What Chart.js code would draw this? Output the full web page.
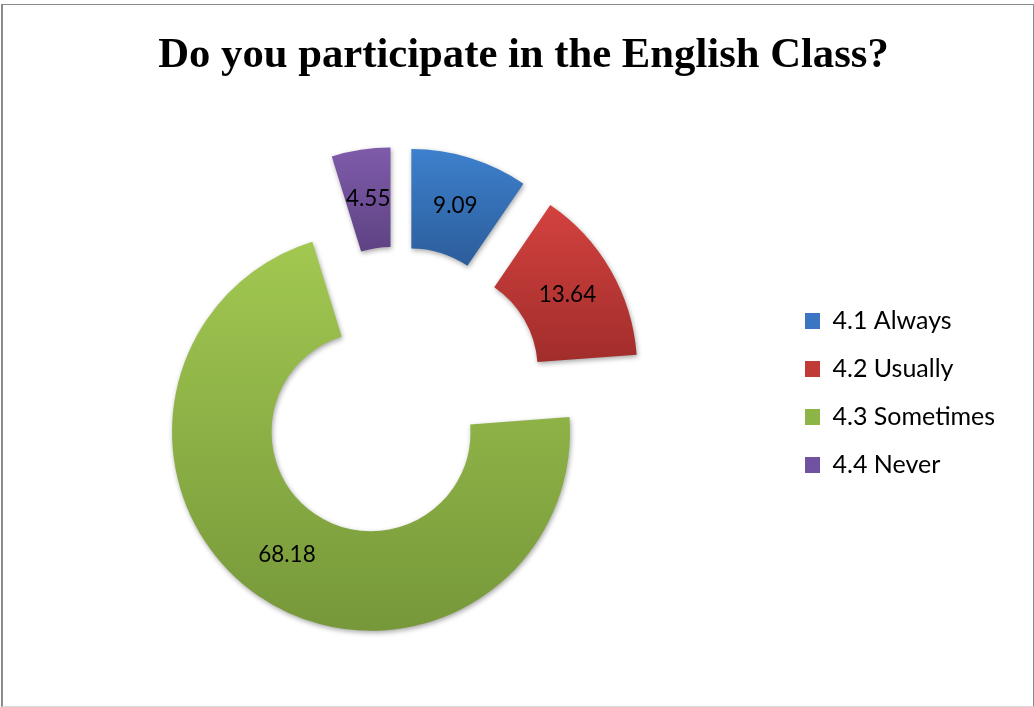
<!DOCTYPE html>
<html>
<head>
<meta charset="utf-8">
<script src="https://cdn.jsdelivr.net/npm/chart.js@4"></script>
<style>
  html, body { margin: 0; padding: 0; background: #fff; }
  body { width: 1034px; height: 707px; position: relative; overflow: hidden; }
  #frame {
    position: absolute; left: 1px; top: 4px; right: 0; bottom: 0;
    box-sizing: border-box;
    border-left: 2px solid #8a8a8a;
    border-top: 1px solid #8a8a8a;
    border-right: 1px solid #8a8a8a;
    border-bottom: 1px solid #d9d9d9;
  }
  #chart { position: absolute; left: 0; top: 0; }
  #title {
    position: absolute; left: 0; top: 31px; width: 1047px;
    text-align: center; white-space: nowrap; color: #000;
    font: bold 42.7px/43px "Liberation Serif", "Times New Roman", serif;
  }
</style>
</head>
<body>
<div id="frame"></div>
<canvas id="chart" width="1034" height="707"></canvas>
<div id="title">Do you participate in the English Class?</div>
<script>
// Survey answers (percent of respondents)
const categories = ['4.1 Always', '4.2 Usually', '4.3 Sometimes', '4.4 Never'];
const percentages = [9.09, 13.64, 68.18, 4.55];

// Slice styling: flat colour for the legend, vertical shade for the slices
const sliceColors = ['#3a76c1', '#c03b38', '#8db446', '#7052a0'];
const sliceShades = [
  ['#3d80cd', '#2c5d9a'],
  ['#d3423f', '#a12d2b'],
  ['#a2c851', '#76983a'],
  ['#7f5baa', '#5e4283']
];
const EXPLODE = 47;          // distance each slice is pulled out from the centre
const TEXT_FONT = 'Lato';

function arcMidAngle(arc) {
  return (arc.startAngle + arc.endAngle) / 2;
}

// Pulls every slice outward, adds a soft drop shadow and a top-to-bottom shade.
const explodedSlices = {
  id: 'explodedSlices',
  beforeDatasetsDraw(chart) {
    const meta = chart.getDatasetMeta(0);
    meta.data.forEach((arc, i) => {
      if (arc._explodeWrapped) return;
      arc._explodeWrapped = true;
      const baseDraw = Object.getPrototypeOf(arc).draw;
      arc.draw = function (ctx) {
        const mid = arcMidAngle(this);
        const dx = Math.cos(mid) * EXPLODE;
        const dy = Math.sin(mid) * EXPLODE;
        let top = Infinity, bottom = -Infinity;
        const steps = 64;
        for (let k = 0; k <= steps; k++) {
          const a = this.startAngle + (this.endAngle - this.startAngle) * k / steps;
          for (const r of [this.innerRadius, this.outerRadius]) {
            const y = this.y + Math.sin(a) * r;
            top = Math.min(top, y);
            bottom = Math.max(bottom, y);
          }
        }
        const shade = ctx.createLinearGradient(0, top, 0, bottom);
        shade.addColorStop(0, sliceShades[i][0]);
        shade.addColorStop(1, sliceShades[i][1]);
        const baseOptions = this.options;
        this.options = Object.assign({}, baseOptions, { backgroundColor: shade });
        ctx.save();
        ctx.translate(dx, dy);
        ctx.shadowColor = 'rgba(0,0,0,0.35)';
        ctx.shadowBlur = 5;
        ctx.shadowOffsetX = 1;
        ctx.shadowOffsetY = 2;
        baseDraw.call(this, ctx);
        ctx.restore();
        this.options = baseOptions;
      };
    });
  },
  afterDatasetsDraw(chart) {
    const ctx = chart.ctx;
    const meta = chart.getDatasetMeta(0);
    ctx.save();
    ctx.font = '22.5px ' + TEXT_FONT;
    ctx.fillStyle = '#000';
    ctx.textAlign = 'center';
    ctx.textBaseline = 'middle';
    meta.data.forEach((arc, i) => {
      const mid = arcMidAngle(arc);
      const r = EXPLODE + (arc.innerRadius + arc.outerRadius) / 2;
      ctx.fillText(percentages[i].toFixed(2),
        arc.x + Math.cos(mid) * r,
        arc.y + Math.sin(mid) * r);
    });
    ctx.restore();
  }
};

function build() {
  new Chart(document.getElementById('chart'), {
    type: 'doughnut',
    data: {
      labels: categories,
      datasets: [{
        data: percentages,
        backgroundColor: sliceColors,
        borderWidth: 0,
        hoverOffset: 0
      }]
    },
    options: {
      responsive: false,
      animation: false,
      events: [],
      radius: 199,
      cutout: '50%',
      layout: { padding: { left: 13, right: 30, top: 171, bottom: 92 } },
      plugins: {
        title: { display: false },
        tooltip: { enabled: false },
        legend: {
          position: 'right',
          align: 'center',
          maxWidth: 222,
          labels: {
            color: '#000',
            font: { family: TEXT_FONT, size: 25 },
            boxWidth: 15,
            boxHeight: 16,
            padding: 23
          }
        }
      }
    },
    plugins: [explodedSlices]
  });
}

Promise.all([
  document.fonts.load('25px ' + TEXT_FONT),
  document.fonts.load('bold 43px "Liberation Serif"')
]).then(build, build);
</script>
</body>
</html>
